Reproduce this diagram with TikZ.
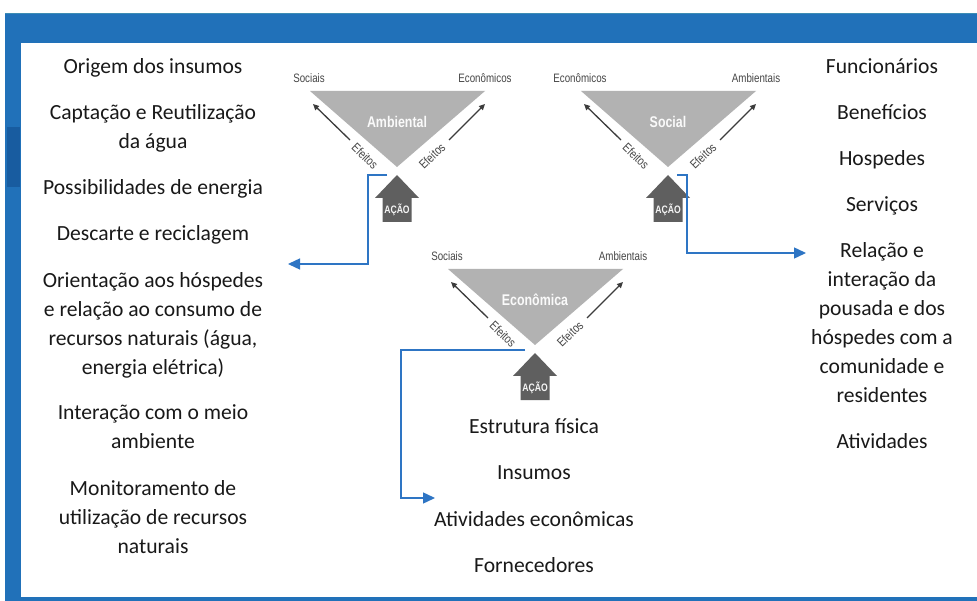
\documentclass[tikz,border=0pt]{standalone}
\usepackage{fontspec}
\setmainfont{Carlito}
\newfontfamily\cond[FakeStretch=0.8]{Liberation Sans}
\usetikzlibrary{arrows.meta}
\definecolor{frameblue}{RGB}{33,113,185}
\definecolor{framedark}{RGB}{24,92,160}
\definecolor{frameedge}{RGB}{60,140,180}
\definecolor{connblue}{RGB}{46,117,196}
\definecolor{trigray}{RGB}{178,178,178}
\definecolor{housegray}{RGB}{95,95,95}
\definecolor{labgray}{RGB}{70,70,70}
\definecolor{effgray}{RGB}{60,60,60}
\tikzset{
  txt/.style={font=\fontsize{21.6}{29}\selectfont, text=black!90, align=center, inner sep=0pt},
  small/.style={font=\cond\fontsize{12.2}{14}\selectfont, text=labgray, inner sep=0pt},
  efflbl/.style={font=\cond\fontsize{12.5}{14}\selectfont, text=labgray, inner sep=0pt},
  trititle/.style={font=\cond\bfseries\fontsize{15.5}{17}\selectfont, text=white!96!gray, inner sep=0pt},
  acaolbl/.style={font=\cond\bfseries\fontsize{10.8}{12}\selectfont, text=white!92!gray, inner sep=0pt},
  trifill/.style={fill=trigray},
  housefill/.style={fill=housegray},
  effarrow/.style={draw=effgray, line width=1.3pt, -{Triangle[length=6pt,width=5.5pt]}},
  conn/.style={draw=connblue, line width=1.4pt, -{Triangle[length=12pt,width=11pt]}},
}
\newcommand\mytriad[6]{%
  \coordinate (#1B) at (#2,#3);
  \coordinate (#1L) at ({#2-87},{#3-76});
  \coordinate (#1R) at ({#2+88},{#3-76});
  \fill[trifill] (#1B) -- (#1L) -- (#1R) -- cycle;
  \node[trititle] (#1T) at (#2,{#3-45}) {#4};
  \node[small] (#1SL) at ({#2-88},{#3-89}) {#5};
  \node[small] (#1SR) at ({#2+88},{#3-89}) {#6};
  \coordinate (#1a1) at ({#2-47},{#3-27});
  \coordinate (#1a2) at ({#2-84},{#3-63});
  \coordinate (#1b1) at ({#2+52},{#3-27});
  \coordinate (#1b2) at ({#2+88},{#3-63});
  \draw[effarrow] (#1a1) -- (#1a2);
  \draw[effarrow] (#1b1) -- (#1b2);
  \node[efflbl, rotate=-44] (#1EL) at ({#2-32},{#3-11}) {Efeitos};
  \node[efflbl, rotate=44] (#1ER) at ({#2+35},{#3-11}) {Efeitos};
  \fill[housefill] (#2,{#3+8}) -- ({#2+22},{#3+31}) -- ({#2+14.5},{#3+31}) -- ({#2+14.5},{#3+55})
     -- ({#2-14.5},{#3+55}) -- ({#2-14.5},{#3+31}) -- ({#2-22},{#3+31}) -- cycle;
  \node[acaolbl] (#1A) at (#2,{#3+43}) {AÇÃO};
}
\begin{document}
\begin{tikzpicture}[x=1pt,y=-1pt]
\useasboundingbox (0,0) rectangle (977,601);
\fill[white] (0,0) rectangle (977,601);
% frame
\fill[frameblue] (5,13) rectangle (977,601);
\fill[frameedge] (5,13) rectangle (977,14.5);
\fill[white] (21,43) rectangle (977,597);
\fill[framedark] (7,127) rectangle (20,187);

% triangles
\mytriad{amb}{397}{167}{Ambiental}{Sociais}{Econômicos}
\mytriad{soc}{668}{167}{Social}{Econômicos}{Ambientais}
\mytriad{eco}{535}{345}{Econômica}{Sociais}{Ambientais}

% left column
\node[txt] (l1) at (153,68) {\strut Origem dos insumos};
\node[txt] (l2) at (153,128.5) {\strut Captação e Reutilização\\\strut da água};
\node[txt] (l3) at (153,189) {\strut Possibilidades de energia};
\node[txt] (l4) at (153,235) {\strut Descarte e reciclagem};
\node[txt] (l5) at (153,325) {\strut Orientação aos hóspedes\\\strut e relação ao consumo de\\\strut recursos naturais (água,\\\strut energia elétrica)};
\node[txt] (l6) at (153,428) {\strut Interação com o meio\\\strut ambiente};
\node[txt] (l7) at (153,519) {\strut Monitoramento de\\\strut utilização de recursos\\\strut naturais};

% right column
\node[txt] (r1) at (882,68) {\strut Funcionários};
\node[txt] (r2) at (882,114) {\strut Benefícios};
\node[txt] (r3) at (882,160) {\strut Hospedes};
\node[txt] (r4) at (882,206) {\strut Serviços};
\node[txt] (r5) at (882,324.5) {\strut Relação e\\\strut interação da\\\strut pousada e dos\\\strut hóspedes com a\\\strut comunidade e\\\strut residentes};
\node[txt] (r6) at (882,443) {\strut Atividades};

% center column
\node[txt] (c1) at (534,428) {\strut Estrutura física};
\node[txt] (c2) at (534,474) {\strut Insumos};
\node[txt] (c3) at (534,521) {\strut Atividades econômicas};
\node[txt] (c4) at (534,567) {\strut Fornecedores};

% connectors
\coordinate (s1) at (387,175);
\coordinate (k1) at (368,264);
\coordinate (t1) at (288,264);
\draw[conn] (s1) -| (k1) -- (t1);
\coordinate (s2) at (677,175);
\coordinate (k2) at (687,253);
\coordinate (t2) at (806,253);
\draw[conn] (s2) -| (k2) -- (t2);
\coordinate (s3) at (525,350);
\coordinate (k3) at (401,498);
\coordinate (t3) at (435,498);
\draw[conn] (s3) -| (k3) -- (t3);
\end{tikzpicture}
\end{document}
